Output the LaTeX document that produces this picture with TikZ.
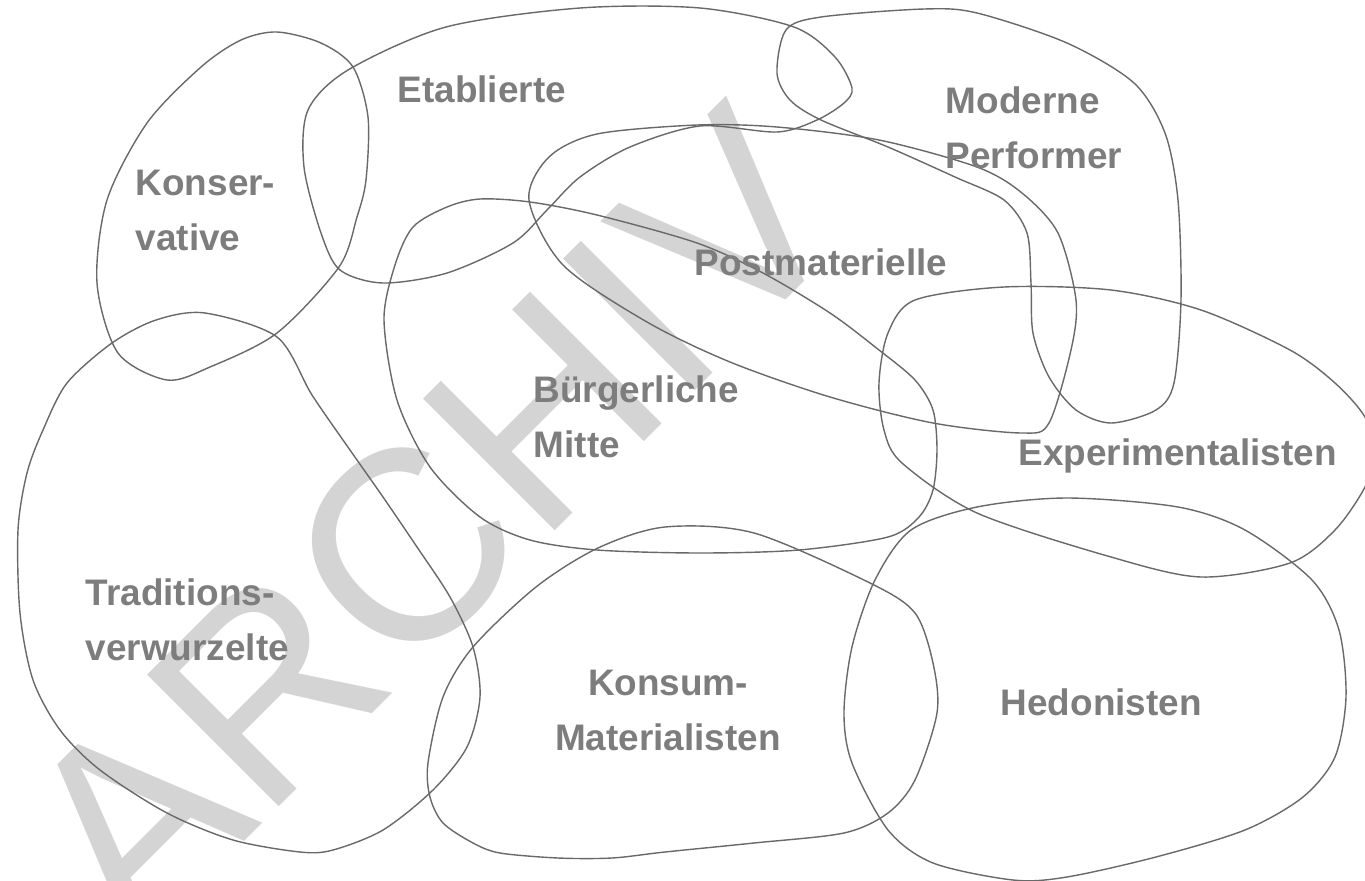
\documentclass[tikz,border=0pt]{standalone}
\usepackage{fontspec}
\setmainfont{Liberation Sans}
\definecolor{milieutext}{RGB}{125,125,125}
\definecolor{milieuline}{RGB}{105,105,105}
\definecolor{stampgray}{RGB}{212,212,212}
\begin{document}
\begin{tikzpicture}[x=0.01cm,y=-0.01cm,
    blob/.style={draw=milieuline,line width=0.4pt},
    milieu/.style={text=milieutext,font=\fontsize{10.5}{15.5}\selectfont\bfseries,
      inner sep=0pt,align=left,anchor=base west},
    stamp/.style={text=stampgray,font=\fontsize{77}{80}\selectfont,
      inner sep=0pt,anchor=base west,rotate=45}]
  \useasboundingbox (0,0) rectangle (1365,881);
  % watermark
  \node[stamp] (archiv) at (135,951) {ARCHIV};
  % milieus
  \draw[blob] plot[smooth cycle] coordinates {(277,32) (321,43) (353,67) (368,117)
    (366,180) (357,217) (339,267) (277,333) (210,367) (167,380)
    (118,353) (97,283) (107,200) (147,123) (201,67) (241,40)};
  \draw[blob] plot[smooth cycle] coordinates {(348,70) (446,27) (580,8) (700,8)
    (794,27) (835,57) (852,88) (844,103) (817,120) (777,132) (700,126) (630,147)
    (580,177) (547,210) (513,243) (447,273) (383,283) (340,270) (321,233)
    (304,167) (308,110)};
  \draw[blob] plot[smooth cycle] coordinates {(924,9) (977,13) (1067,43)
    (1134,83) (1165,133) (1178,200) (1181,300) (1174,383) (1156,410) (1111,423)
    (1076,410) (1049,377) (1033,333) (1031,283) (1027,233) (1004,200) (955,177)
    (888,147) (821,120) (790,100) (777,73) (786,30) (821,17)};
  \draw[blob] plot[smooth cycle] coordinates {(529,200) (549,157) (597,134)
    (697,125) (777,127) (879,140) (977,167) (1022,193) (1058,233) (1076,300)
    (1071,350) (1049,423) (1022,433) (933,423) (830,397) (730,362) (647,322)
    (563,265)};
  \draw[blob] plot[smooth cycle] coordinates {(384,320) (395,265) (413,227)
    (447,207) (480,199) (530,202) (597,215) (697,243) (763,273) (830,313)
    (879,350) (915,380) (933,410) (937,450) (933,490) (919,517) (888,537)
    (799,550) (700,553) (597,550) (530,540) (480,517) (430,467) (397,400)};
  \draw[blob] plot[smooth cycle] coordinates {(1004,287) (1111,290) (1201,310)
    (1290,350) (1335,383) (1365,417) (1375,452) (1365,487) (1335,530)
    (1290,563) (1201,577) (1111,557) (977,513) (902,463) (884,430) (879,383)
    (888,333) (915,300)};
  \draw[blob] plot[smooth cycle] coordinates {(1067,498) (1178,507) (1245,530)
    (1312,580) (1339,630) (1346,697) (1335,757) (1303,797) (1245,830)
    (1156,857) (1067,877) (1013,880) (933,863) (888,830) (852,763) (844,713)
    (852,647) (875,580) (911,530) (977,507)};
  \draw[blob] plot[smooth cycle] coordinates {(665,527) (754,533) (870,583)
    (915,613) (933,663) (937,713) (915,780) (888,813) (844,833) (754,843)
    (665,852) (612,858) (558,858) (500,853) (473,843) (443,823) (430,797)
    (428,763) (443,697) (473,647) (536,587) (598,548)};
  \draw[blob] plot[smooth cycle] coordinates {(205,313) (277,337) (312,395)
    (350,450) (383,497) (417,547) (450,597) (473,647) (480,697) (467,747)
    (433,790) (383,830) (333,850) (300,852) (233,840) (167,813) (100,770)
    (60,730) (33,680) (20,613) (18,530) (27,473) (43,430) (67,383) (112,343)
    (156,320)};
  % names
  \node[milieu] (konservative) at (135,250) {Konser-\\vative};
  \node[milieu] (etablierte) at (397,102) {Etablierte};
  \node[milieu] (performer) at (945,168) {Moderne\\Performer};
  \node[milieu] (postmat) at (694,275) {Postmaterielle};
  \node[milieu] (mitte) at (533,457) {Bürgerliche\\Mitte};
  \node[milieu] (experiment) at (1018,465) {Experimentalisten};
  \node[milieu] (tradition) at (85,660) {Traditions-\\verwurzelte};
  \node[milieu,align=center,anchor=base] (konsum) at (668,750) {Konsum-\\Materialisten};
  \node[milieu] (hedonisten) at (1000,715) {Hedonisten};
\end{tikzpicture}
\end{document}
